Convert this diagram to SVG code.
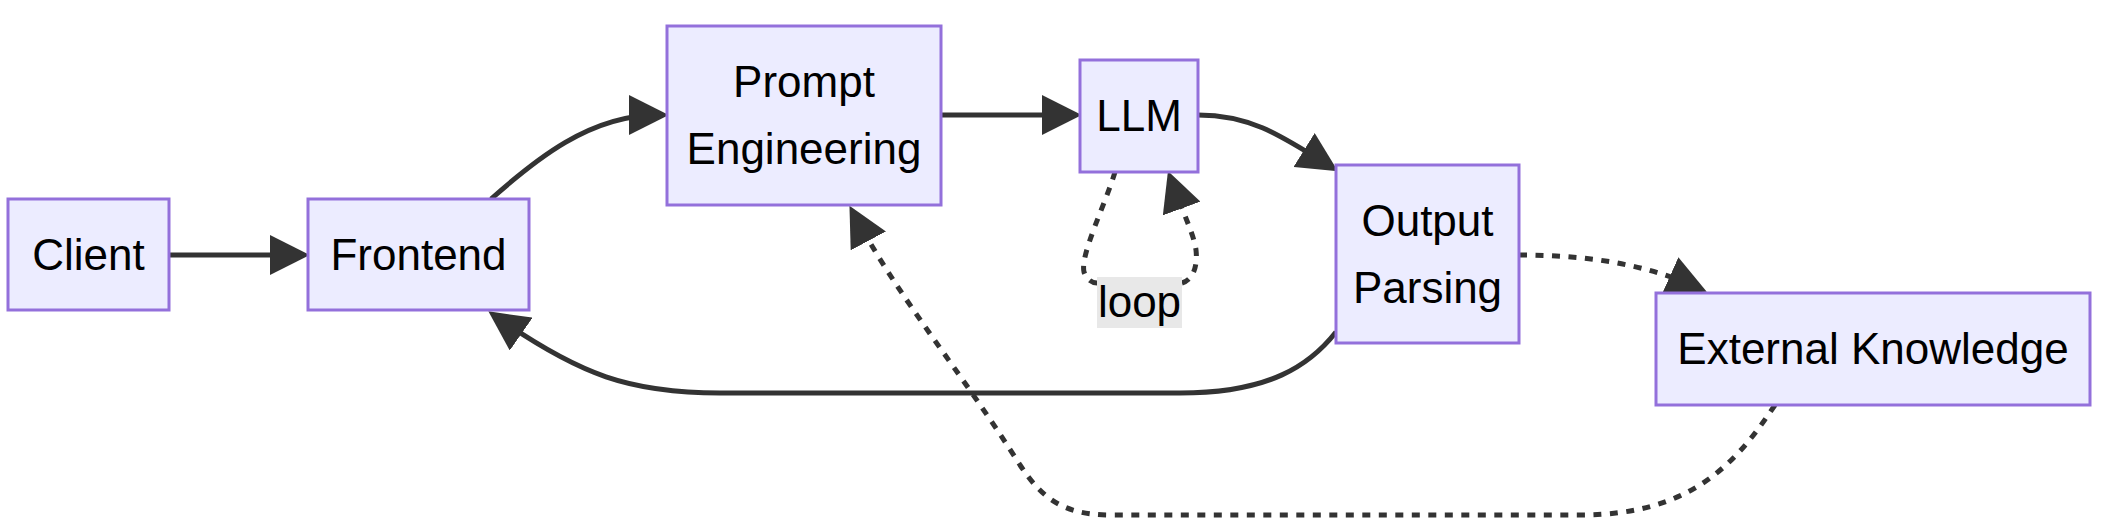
<svg xmlns="http://www.w3.org/2000/svg" width="2109" height="527" viewBox="0 0 2109 527">
<style>
.node rect{fill:#ECECFF;stroke:#9370DB;stroke-width:3}
.node text,.lbl text{font-family:"Liberation Sans",Arial,sans-serif;font-size:44px;fill:#000;text-anchor:middle}
.edge{fill:none;stroke:#333333;stroke-width:5}
.dot{fill:none;stroke:#333333;stroke-width:5;stroke-dasharray:8 8.5}
</style>
<defs>
<marker id="arr" markerUnits="userSpaceOnUse" markerWidth="40" markerHeight="40" viewBox="0 0 34 34" refX="24" refY="17" orient="auto">
<path d="M0,0 L34,17 L0,34 z" fill="#333333"/>
</marker>
</defs>
<rect width="2109" height="527" fill="#ffffff"/>
<g id="connectors">
<path class="edge" d="M169,255 L298,255" marker-end="url(#arr)"/>
<path class="edge" d="M491,199 C535,160 590,115 657,115" marker-end="url(#arr)"/>
<path class="edge" d="M941,115 L1070,115" marker-end="url(#arr)"/>
<path class="edge" d="M1198,115 C1250,115 1280,135 1328,165" marker-end="url(#arr)"/>
<path class="edge" d="M1336,332 C1310,365 1270,393 1180,393 L720,393 C630,393 580,375 498,318" marker-end="url(#arr)"/>
<path class="dot" d="M1519,255 C1580,255 1640,262 1696,287" marker-end="url(#arr)"/>
<path class="dot" d="M1775,405 C1735,465 1690,515 1580,515 L1110,515 C1060,515 1040,495 1020,465 C960,370 900,300 855,216" marker-end="url(#arr)"/>
<path class="dot" d="M1115,172 C1105,205 1080,255 1084,272 C1087,280 1092,283 1097,283"/>
<path class="dot" d="M1182,283 C1192,280 1198,268 1196,250 C1194,235 1184,215 1172,182" marker-end="url(#arr)"/>
</g>
<g id="label-loop" class="lbl">
<rect x="1097" y="277" width="85" height="51" fill="#e8e8e8"/>
<text x="1139.5" y="317">loop</text>
</g>
<g id="node-client" class="node">
<rect x="8" y="199" width="161" height="111"/>
<text x="88.5" y="269.5">Client</text>
</g>
<g id="node-frontend" class="node">
<rect x="308" y="199" width="221" height="111"/>
<text x="418.5" y="269.5">Frontend</text>
</g>
<g id="node-prompt" class="node">
<rect x="667" y="26" width="274" height="179"/>
<text x="804" y="97">Prompt</text>
<text x="804" y="164">Engineering</text>
</g>
<g id="node-llm" class="node">
<rect x="1080" y="60" width="118" height="112"/>
<text x="1139" y="131">LLM</text>
</g>
<g id="node-output" class="node">
<rect x="1336" y="165" width="183" height="178"/>
<text x="1427.5" y="236">Output</text>
<text x="1427.5" y="303">Parsing</text>
</g>
<g id="node-external" class="node">
<rect x="1656" y="293" width="434" height="112"/>
<text x="1873" y="364">External Knowledge</text>
</g>
</svg>
